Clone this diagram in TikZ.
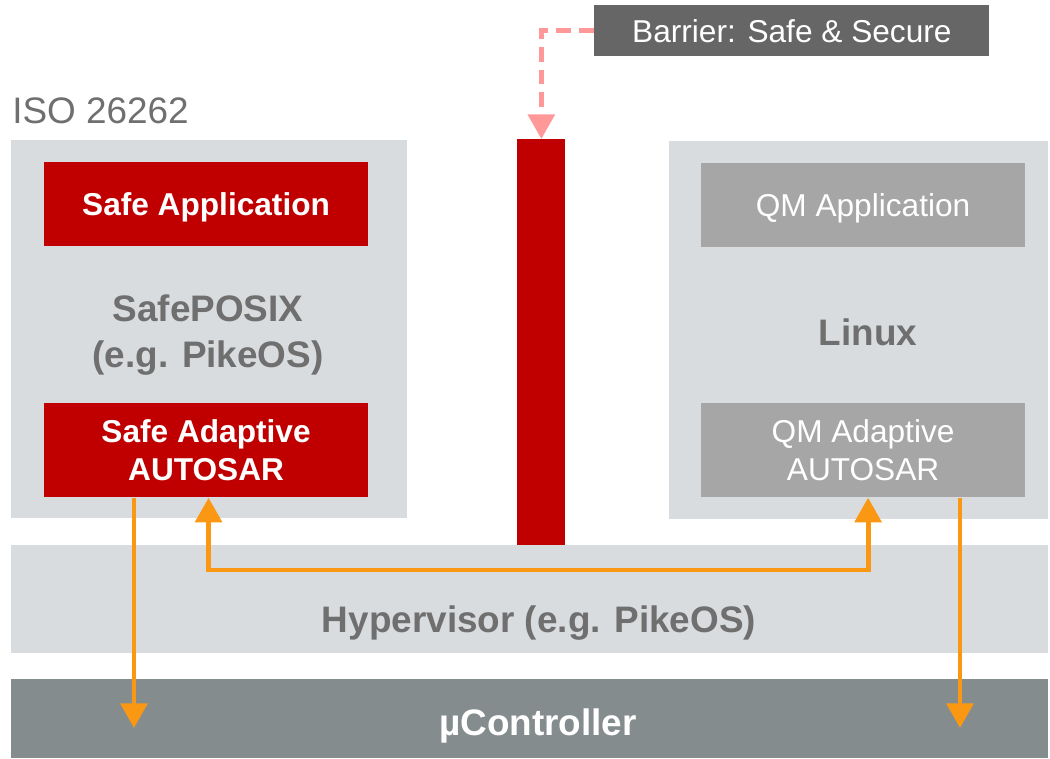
\documentclass[tikz,border=0pt]{standalone}
\usepackage{fontspec}
\setmainfont{Liberation Sans}
\usetikzlibrary{arrows.meta, positioning}
\definecolor{hvred}{RGB}{192,0,0}
\definecolor{hvlight}{RGB}{217,220,223}
\definecolor{hvtext}{RGB}{111,111,111}
\definecolor{hvqm}{RGB}{166,166,166}
\definecolor{hvdark}{RGB}{102,102,102}
\definecolor{hvctrl}{RGB}{133,140,142}
\definecolor{hvorange}{RGB}{250,152,20}
\definecolor{hvpink}{RGB}{255,153,153}

\begin{document}
\begin{tikzpicture}[
  x=0.02cm, y=-0.02cm,
  frame/.style={fill=hvlight, anchor=north west, inner sep=0pt},
  appbox/.style={anchor=north west, minimum width=6.47cm, minimum height=1.68cm,
                 inner sep=0pt, align=center, text=white,
                 font=\fontsize{18}{21.6}\selectfont},
  safebox/.style={appbox, fill=hvred, font=\fontsize{18}{21.6}\selectfont\bfseries},
  qmbox/.style={appbox, fill=hvqm},
  big/.style={text=hvtext, align=center, font=\fontsize{21}{26.5}\selectfont\bfseries},
  arr/.style={hvorange, line width=2.8pt, >={Triangle[width=15pt,length=14pt]}},
  barr/.style={hvpink, line width=2.8pt, dash pattern=on 8.5pt off 4.5pt,
               -{Triangle[width=15pt,length=14pt]}},
]
  \useasboundingbox (0,0) rectangle (1050,758);

  \node[frame, minimum width=7.92cm, minimum height=7.56cm] (safeos) at (11,140) {};
  \node[frame, minimum width=7.58cm, minimum height=7.56cm] (qmos) at (669,141) {};
  \node[frame, minimum width=20.74cm, minimum height=2.16cm] (hyp) at (11,545) {};
  \node[frame, fill=hvctrl, minimum width=20.74cm, minimum height=1.58cm] (ctrl) at (11,679) {};
  \node[frame, fill=hvred, minimum width=0.96cm, minimum height=8.12cm] (bar) at (517,139) {};
  \node[frame, fill=hvdark, minimum width=7.9cm, minimum height=1.02cm, text=white,
        font=\fontsize{18}{21.6}\selectfont] (barlabel) at (594,5) {Barrier: Safe \& Secure};

  \node[anchor=base west, inner sep=0pt, text=hvtext,
        font=\fontsize{21}{25}\selectfont] (iso) at (12,123) {ISO 26262};

  \node[safebox, text depth=0pt] (safeapp) at (44,162) {Safe Application};
  \node[big] (posix) at (208,335) {SafePOSIX\\(e.g. PikeOS)};
  \node[safebox, minimum height=1.88cm] (safeaa) at (44,403) {Safe Adaptive\\AUTOSAR};

  \node[qmbox, text depth=0pt] (qmapp) at (701,163) {QM Application};
  \node[big] (linux) at (868,332) {Linux};
  \node[qmbox, minimum height=1.88cm] (qmaa) at (701,403) {QM Adaptive\\AUTOSAR};

  \node[big] (hyptext) at (539,623) {Hypervisor (e.g. PikeOS)};
  \node[big, text=white] (ctrltext) at (538,726) {µController};

  \draw[barr] (barlabel.west) -| (bar.north);

  \coordinate (bus) at (0,570);
  \coordinate (downL) at (134,728);
  \coordinate (downR) at (960,728);
  \draw[arr, <->] ([xshift=0.05cm]safeaa.south) -- ([xshift=0.05cm]safeaa.south |- bus)
    -- ([xshift=0.1cm]qmaa.south |- bus) -- ([xshift=0.1cm]qmaa.south);
  \draw[arr, ->] (safeaa.south -| downL) -- (downL);
  \draw[arr, ->] (qmaa.south -| downR) -- (downR);
\end{tikzpicture}
\end{document}
